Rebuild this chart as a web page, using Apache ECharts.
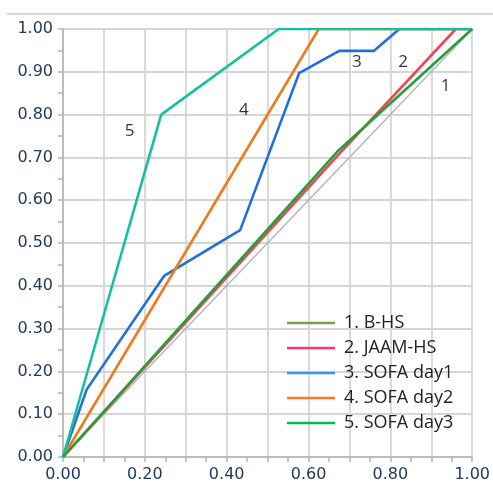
<!DOCTYPE html>
<html><head><meta charset="utf-8">
<script src="https://cdn.jsdelivr.net/npm/echarts@6/dist/echarts.min.js"></script>
<style>html,body{margin:0;padding:0;background:#fff}#c{width:493px;height:488px}</style>
</head><body><div id="c"></div>
<script>
var names = ['1. B-HS', '2. JAAM-HS', '3. SOFA day1', '4. SOFA day2', '5. SOFA day3'];
var refLine = [[0, 0], [1, 1]];
var bhs = [[0, 0], [0.67, 0.713], [1, 1]];
var jaam = [[0, 0], [0.67, 0.703], [0.96, 1]];
var sofa1 = [[0, 0], [0.058, 0.158], [0.247, 0.423], [0.433, 0.53], [0.577, 0.897], [0.675, 0.949], [0.76, 0.949], [0.822, 1], [1, 1]];
var sofa2 = [[0, 0], [0.625, 1], [1, 1]];
var sofa3 = [[0, 0], [0.24, 0.8], [0.527, 1], [1, 1]];
var lineColors = ['#22a03c', '#f04458', '#1f6fe0', '#f07a1e', '#14c0a0'];
var legendColors = ['#77a045', '#ff3377', '#3399ee', '#ff7722', '#00bb55'];
var curveLabels = [['5', 0.163, 0.762], ['4', 0.442, 0.81], ['3', 0.718, 0.923], ['2', 0.831, 0.923], ['1', 0.935, 0.867]];

var chart = echarts.init(document.getElementById('c'));
var axisCommon = {
  type: 'value', min: 0, max: 1, interval: 0.1,
  axisLine: {show: true, lineStyle: {color: '#b4b4b4', width: 1.6}},
  axisTick: {show: true, length: 5, lineStyle: {color: '#b4b4b4', width: 1.5}},
  minorTick: {show: true, splitNumber: 2, length: 5, lineStyle: {color: '#b4b4b4', width: 1.5}},
  splitLine: {show: true, lineStyle: {color: '#d6d6d6', width: 1.8}},
  axisLabel: {color: '#1f3a60', fontFamily: 'DejaVu Sans', fontSize: 16}
};
var xAxis = JSON.parse(JSON.stringify(axisCommon));
xAxis.axisLabel.formatter = function (v) { return Math.round(v * 10) % 2 === 0 ? v.toFixed(2) : ''; };
xAxis.axisLabel.margin = 10;
var yAxis = JSON.parse(JSON.stringify(axisCommon));
yAxis.axisLabel.formatter = function (v) { return v.toFixed(2); };
yAxis.axisLabel.margin = 10;

var datas = [bhs, jaam, sofa1, sofa2, sofa3];
var series = [{
  name: 'ref', type: 'line', data: refLine, symbol: 'none', silent: true,
  lineStyle: {color: '#b0b0b0', width: 1.2}, z: 1
}];
datas.forEach(function (d, i) {
  series.push({
    name: names[i], type: 'line', data: d, symbol: 'none',
    lineStyle: {color: lineColors[i], width: 2.6}, itemStyle: {color: lineColors[i]},
    z: i === 0 ? 4 : 3
  });
});
series.push({
  name: 'labels', type: 'scatter', symbolSize: 0, silent: true,
  data: curveLabels.map(function (l) { return {name: l[0], value: [l[1], l[2]]}; }),
  label: {show: true, position: 'inside', formatter: '{b}', color: '#000', fontFamily: 'Open Sans', fontSize: 17}
});

chart.setOption({
  animation: false,
  grid: {left: 63, right: 14, top: 29, bottom: 31},
  xAxis: xAxis,
  yAxis: yAxis,
  legend: {
    orient: 'vertical', left: 282, top: 308, icon: 'rect', itemWidth: 48, itemHeight: 2.5, itemGap: 5,
    textStyle: {color: '#222', fontFamily: 'Open Sans', fontSize: 18, lineHeight: 20, padding: [0, 0, 0, 4]},
    data: names.map(function (n, i) { return {name: n, itemStyle: {color: legendColors[i]}}; })
  },
  graphic: [{type: 'rect', shape: {x: 7, y: 13, width: 486, height: 2}, style: {fill: '#d8d8d8'}}],
  series: series
});
</script></body></html>
